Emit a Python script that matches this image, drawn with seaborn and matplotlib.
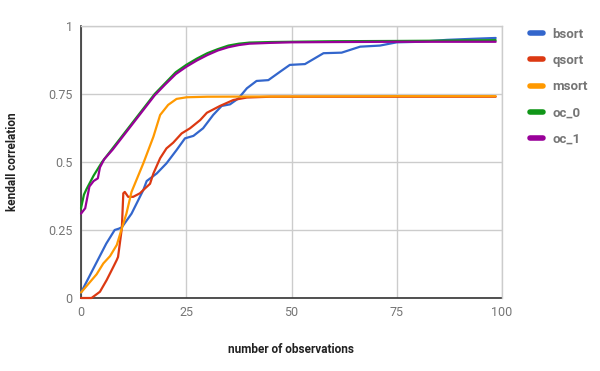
import numpy as np
import pandas as pd
import matplotlib
matplotlib.use('Agg')
import matplotlib.pyplot as plt
import seaborn as sns

sns.set_style('white')
plt.rcParams['font.family'] = ['Roboto', 'DejaVu Sans']

# values
bsort_x = [0, 2, 4, 6, 8, 9, 9.7, 12, 14.8, 15.6, 18, 20.3, 22.7, 24.7, 26.7, 29, 31.4, 33.4, 35.4,
           37.4, 39.4, 41.7, 44.5, 47.3, 49.6, 53.2, 57.6, 61.9, 66.3, 71, 75, 80.5, 86.9, 93.1, 98.5]
bsort_y = [0.02, 0.08, 0.14, 0.2, 0.25, 0.255, 0.26, 0.31, 0.397, 0.43, 0.458, 0.495, 0.544, 0.587,
           0.596, 0.624, 0.673, 0.706, 0.712, 0.734, 0.771, 0.798, 0.801, 0.832, 0.857, 0.86, 0.9,
           0.902, 0.924, 0.928, 0.94, 0.942, 0.949, 0.953, 0.956]

qsort_x = [0, 2.5, 4.5, 6.1, 7.7, 8.5, 8.8, 9.7, 10.05, 10.4, 11.2, 12.4, 14, 14.8, 16.4, 17.2, 18.8,
           20.3, 21.9, 23.9, 25.9, 28.3, 29.9, 33, 36.2, 39.4, 45, 60, 80, 98.5]
qsort_y = [0.0, 0.0, 0.023, 0.066, 0.115, 0.14, 0.151, 0.256, 0.385, 0.39, 0.372, 0.372, 0.385, 0.397,
           0.42, 0.458, 0.514, 0.55, 0.571, 0.605, 0.624, 0.654, 0.681, 0.706, 0.728, 0.737, 0.74,
           0.74, 0.74, 0.74]

msort_x = [0, 3.7, 5.3, 6.9, 8.5, 9.7, 10.8, 12, 14.8, 17.2, 18.8, 20.7, 22.7, 25.1, 30, 50, 75, 98.5]
msort_y = [0.02, 0.087, 0.127, 0.154, 0.195, 0.256, 0.311, 0.39, 0.495, 0.593, 0.673, 0.71, 0.732,
           0.738, 0.74, 0.741, 0.742, 0.742]

oc0_x = [0, 0.7, 1.3, 3, 5, 7.5, 10, 12.5, 15, 17.5, 20, 22.5, 25, 27.5, 30, 32.5, 35, 37.5, 40,
         45, 50, 60, 75, 85, 98.5]
oc0_y = [0.33, 0.38, 0.40, 0.45, 0.50, 0.55, 0.60, 0.65, 0.70, 0.75, 0.79, 0.83, 0.857, 0.88, 0.90,
         0.915, 0.928, 0.935, 0.939, 0.941, 0.942, 0.944, 0.945, 0.946, 0.948]

oc1_x = [0, 1, 2, 3, 4, 4.5, 5.5, 7.5, 10, 12.5, 15, 17.5, 20, 22.5, 25, 27.5, 30, 32.5, 35, 37.5,
         40, 45, 50, 60, 75, 85, 98.5]
oc1_y = [0.31, 0.33, 0.41, 0.43, 0.44, 0.48, 0.51, 0.545, 0.595, 0.645, 0.695, 0.745, 0.785, 0.823,
         0.85, 0.873, 0.893, 0.91, 0.922, 0.93, 0.935, 0.938, 0.94, 0.941, 0.942, 0.942, 0.942]

names = ['bsort', 'qsort', 'msort', 'oc_0', 'oc_1']
colors = ['#3366cc', '#dc3912', '#ff9900', '#109618', '#990099']

series = {'bsort': (bsort_x, bsort_y), 'qsort': (qsort_x, qsort_y), 'msort': (msort_x, msort_y),
          'oc_0': (oc0_x, oc0_y), 'oc_1': (oc1_x, oc1_y)}
frames = []
for n in names:
    xs, ys = series[n]
    frames.append(pd.DataFrame({'x': xs, 'y': ys, 'series': n}))
df = pd.concat(frames, ignore_index=True)

fig = plt.figure(figsize=(6, 3.71), dpi=100)
ax = fig.add_axes([81 / 600, 73 / 371, 421 / 600, 272 / 371])
sns.lineplot(data=df, x='x', y='y', hue='series', hue_order=names, palette=colors,
             estimator=None, sort=False, linewidth=1.6, ax=ax, legend=False)
for line in ax.get_lines():
    line.set_solid_joinstyle('round')
    line.set_zorder(3)
    line.set_clip_on(False)

ax.set_xlim(0, 100)
ax.set_ylim(0, 1)
ax.set_xticks([0, 25, 50, 75, 100])
ax.set_xticklabels(['0', '25', '50', '75', '100'])
ax.set_yticks([0, 0.25, 0.5, 0.75, 1])
ax.set_yticklabels(['0', '0.25', '0.5', '0.75', '1'])
ax.grid(True, color='#cccccc', linewidth=1)
ax.set_axisbelow(True)
for s in ['top', 'right']:
    ax.spines[s].set_color('#cccccc')
    ax.spines[s].set_linewidth(1)
for s in ['left', 'bottom']:
    ax.spines[s].set_color('#333333')
    ax.spines[s].set_linewidth(1.2)
    ax.spines[s].set_zorder(2)
ax.tick_params(length=0, labelsize=9, colors='#757575', pad=6)
ax.set_xlabel('number of observations', fontsize=8.5, fontweight='bold', color='#222222', labelpad=17)
ax.set_ylabel('kendall correlation', fontsize=8.5, fontweight='bold', color='#222222', labelpad=21)

handles = [plt.Line2D([], [], color=c, linewidth=4, solid_capstyle='round') for c in colors]
leg = fig.legend(handles, names, loc='upper left', bbox_to_anchor=(518 / 600, 1 - 16 / 371),
                 frameon=False, handlelength=1.0, handletextpad=0.7, labelspacing=1.0,
                 prop={'size': 9.5, 'weight': 'bold'})
for t in leg.get_texts():
    t.set_color('#757575')

fig.savefig('out.png', dpi=100)
